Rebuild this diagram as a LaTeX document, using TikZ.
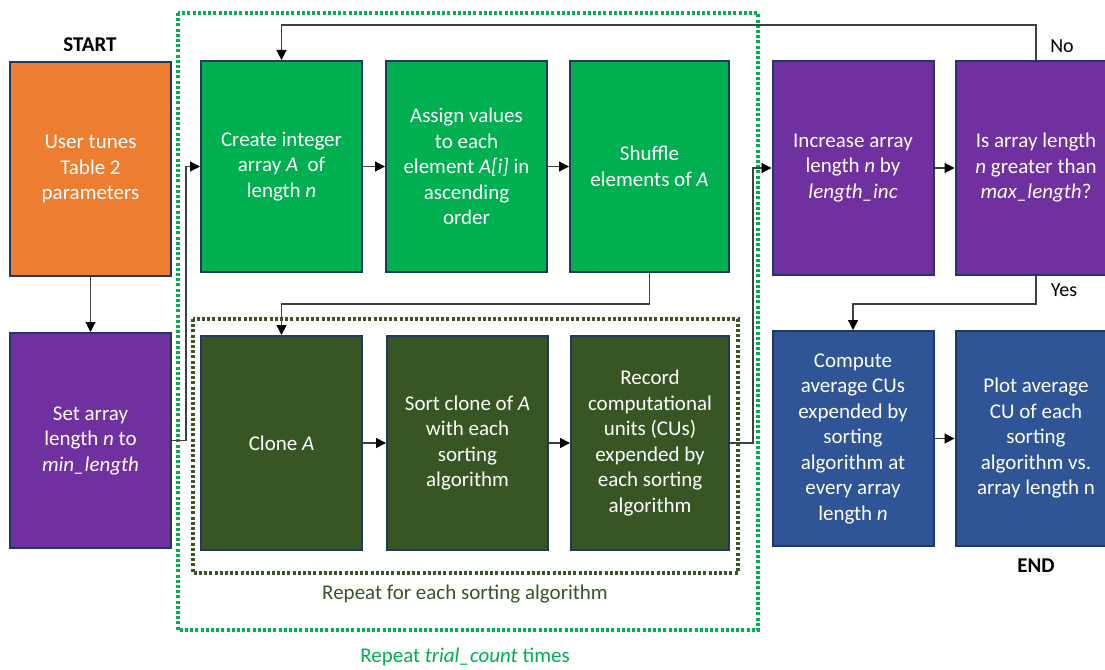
\documentclass[tikz,border=0pt]{standalone}
\usepackage{fontspec}
\setmainfont{Carlito}
\usetikzlibrary{arrows.meta}
\definecolor{corange}{HTML}{ED7D31}
\definecolor{cgreen}{HTML}{00B050}
\definecolor{cpurple}{HTML}{7030A0}
\definecolor{cdkgreen}{HTML}{375623}
\definecolor{cblue}{HTML}{2F5597}
\definecolor{cborder}{HTML}{1F3864}
\definecolor{cline}{HTML}{404040}
\begin{document}
\begin{tikzpicture}[x=1pt,y=-1pt,
  box/.style={draw=cborder, line width=2pt, minimum width=161pt, minimum height=214pt,
    text=white, align=center, font=\fontsize{21}{25.5}\selectfont, inner sep=0pt},
  conn/.style={draw=cline, line width=1.2pt, -{Triangle[length=10pt,width=10pt,color=black]}},
  lbl/.style={font=\fontsize{20}{24}\selectfont, inner sep=0pt},
  loopbox/.style={line width=3.2pt, dash pattern=on 3pt off 2.2pt}]
\useasboundingbox (0,0) rectangle (1105,669);
\clip (0,0) rectangle (1105,669);
% loop frames
\draw[loopbox, cgreen] (178,13) rectangle (758,630);
\draw[loopbox, cdkgreen] (193,319) rectangle (738,573);
% boxes
\node[box, fill=corange] (start) at (90.5,169) {User tunes\\Table 2\\parameters};
\node[box, fill=cpurple, minimum height=215pt] (setlen) at (90.5,440.5) {Set array\\length \textit{n} to\\\textit{min\_length}};
\node[box, fill=cgreen, minimum height=211pt] (create) at (281.5,166.5) {Create integer\\array \textit{A}\ \ of\\length \textit{n}};
\node[box, fill=cgreen, minimum height=211pt] (assign) at (466.5,166.5) {Assign values\\to each\\element \textit{A[i]} in\\ascending\\order};
\node[box, fill=cgreen, minimum height=211pt, minimum width=159pt] (shuffle) at (649.5,166.5) {Shuffle\\elements of \textit{A}};
\node[box, fill=cdkgreen] (clone) at (281.5,443) {Clone \textit{A}};
\node[box, fill=cdkgreen] (sort) at (467.5,443) {Sort clone of \textit{A}\\with each\\sorting\\algorithm};
\node[box, fill=cdkgreen, minimum width=158pt] (record) at (650,443) {Record\\computational\\units (CUs)\\expended by\\each sorting\\algorithm};
\node[box, fill=cpurple] (increase) at (853,168) {Increase array\\length \textit{n} by\\\textit{length\_inc}};
\node[box, fill=cpurple] (isarray) at (1036,168) {Is array length\\\textit{n} greater than\\\textit{max\_length}?};
\node[box, fill=cblue, minimum height=215pt] (compute) at (853,438.5) {Compute\\average CUs\\expended by\\sorting\\algorithm at\\every array\\length \textit{n}};
\node[box, fill=cblue, minimum height=215pt] (plot) at (1036,438.5) {Plot average\\CU of each\\sorting\\algorithm vs.\\array length n};
% labels
\node[lbl, font=\fontsize{21}{24}\selectfont\bfseries] (lstart) at (90,45) {START};
\node[lbl, font=\fontsize{21}{24}\selectfont\bfseries] (lend) at (1036,566) {END};
\node[lbl, text=cdkgreen, font=\fontsize{21}{24}\selectfont] (linner) at (465,594) {Repeat for each sorting algorithm};
\node[lbl, text=cgreen, font=\fontsize{21}{24}\selectfont] (louter) at (465,657) {Repeat \textit{trial\_count} times};
\node[lbl] (lno) at (1062,46) {No};
\node[lbl] (lyes) at (1064,290) {Yes};
% connectors
\draw[conn] (start.south) -- (setlen.north);
\draw[conn] (setlen.east) -- ++(14,0) |- (create.west);
\draw[conn] (create.east) -- (assign.west);
\draw[conn] (assign.east) -- (shuffle.west);
\draw[conn] (shuffle.south) -- ++(0,31) -| (clone.north);
\draw[conn] (clone.east) -- (sort.west);
\draw[conn] (sort.east) -- (record.west);
\draw[conn] (record.east) -- ++(23,0) |- (increase.west);
\draw[conn] (increase.east) -- (isarray.west);
\draw[conn] (isarray.north) -- ++(0,-35) -| (create.north);
\draw[conn] (isarray.south) -- ++(0,28) -| (compute.north);
\draw[conn] (compute.east) -- (plot.west);
\end{tikzpicture}
\end{document}
